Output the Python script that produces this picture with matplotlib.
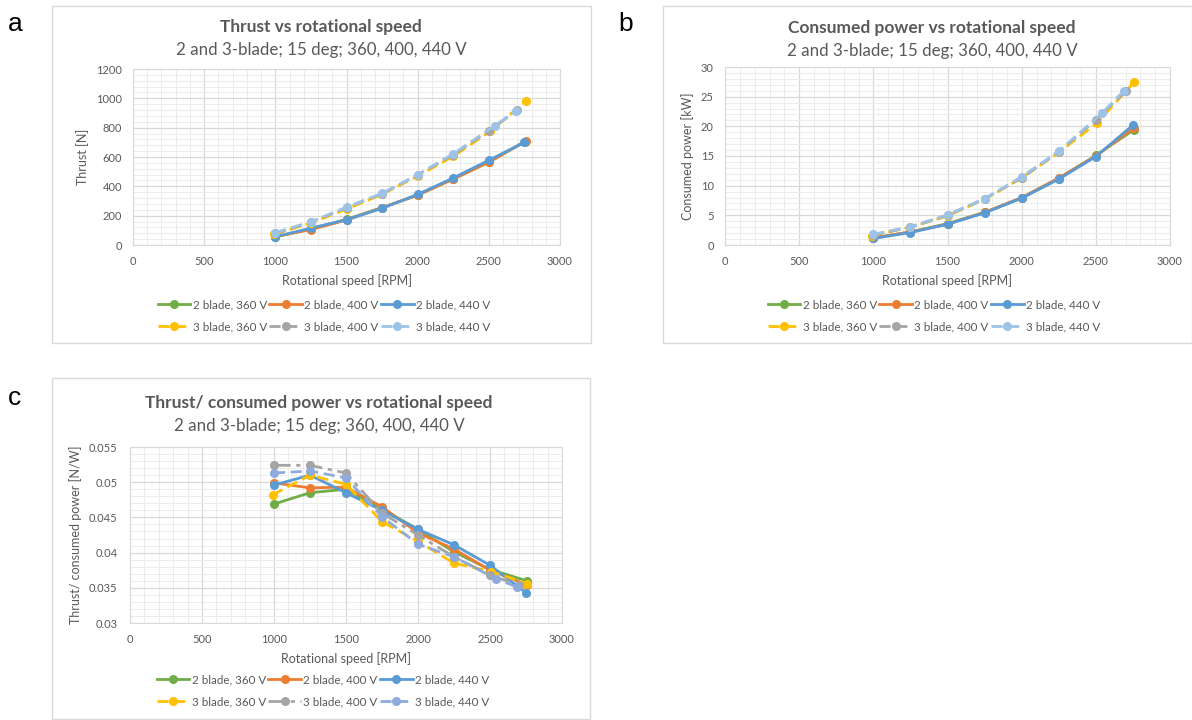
import matplotlib
matplotlib.use("Agg")
import matplotlib.pyplot as plt
from matplotlib.patches import Rectangle
from matplotlib.ticker import MultipleLocator, FuncFormatter

plt.rcParams['font.family'] = ['Lato', 'DejaVu Sans']

# ---- data ----
labels = ['2 blade, 360 V', '2 blade, 400 V', '2 blade, 440 V',
          '3 blade, 360 V', '3 blade, 400 V', '3 blade, 440 V']

x_2b_360 = [1000, 1250, 1500, 1750, 2000, 2250, 2500, 2755]
x_2b_400 = [1000, 1250, 1500, 1750, 2000, 2250, 2500, 2760]
x_2b_440 = [1000, 1250, 1500, 1750, 2000, 2250, 2500, 2750]
x_3b_360 = [990, 1250, 1500, 1750, 2000, 2250, 2510, 2760]
x_3b_400 = [1000, 1250, 1500, 1750, 2000, 2250, 2500, 2700]
x_3b_440 = [1000, 1250, 1500, 1750, 2000, 2250, 2540, 2690]

thrust_2b_360 = [55, 110, 175, 255, 340, 450, 565, 705]
thrust_2b_400 = [58, 105, 170, 255, 340, 450, 565, 710]
thrust_2b_440 = [57, 115, 172, 250, 345, 457, 578, 700]
thrust_3b_360 = [72, 150, 245, 345, 470, 605, 775, 980]
thrust_3b_400 = [80, 155, 255, 350, 478, 615, 780, 920]
thrust_3b_440 = [85, 158, 258, 352, 480, 622, 812, 915]

power_2b_360 = [1.2, 2.2, 3.6, 5.5, 7.9, 11.2, 15.1, 19.4]
power_2b_400 = [1.2, 2.2, 3.5, 5.5, 8.0, 11.3, 15.0, 19.8]
power_2b_440 = [1.1, 2.1, 3.5, 5.4, 7.9, 11.1, 14.9, 20.2]
power_3b_360 = [1.6, 3.0, 4.9, 7.7, 11.3, 15.6, 20.6, 27.5]
power_3b_400 = [1.7, 3.0, 5.0, 7.8, 11.3, 15.7, 21.1, 25.9]
power_3b_440 = [1.8, 3.1, 5.1, 7.8, 11.5, 15.8, 22.2, 26.0]

ratio_2b_360 = [0.0469, 0.0485, 0.0490, 0.0462, 0.0433, 0.0401, 0.0376, 0.0360]
ratio_2b_400 = [0.0499, 0.0492, 0.0493, 0.0465, 0.0428, 0.0405, 0.0375, 0.0354]
ratio_2b_440 = [0.0496, 0.0510, 0.0485, 0.0460, 0.0433, 0.0411, 0.0382, 0.0343]
ratio_3b_360 = [0.0482, 0.0510, 0.0497, 0.0444, 0.0416, 0.0385, 0.0373, 0.0356]
ratio_3b_400 = [0.0524, 0.0524, 0.0513, 0.0456, 0.0425, 0.0394, 0.0368, 0.0354]
ratio_3b_440 = [0.0513, 0.0516, 0.0506, 0.0451, 0.0412, 0.0394, 0.0363, 0.0351]

xs = [x_2b_360, x_2b_400, x_2b_440, x_3b_360, x_3b_400, x_3b_440]

TXT = '#595959'
W, H = 1192, 720

fig = plt.figure(figsize=(W / 100, H / 100), dpi=100)


def px_axes(x0, y0, x1, y1):
    return fig.add_axes([x0 / W, 1 - y1 / H, (x1 - x0) / W, (y1 - y0) / H])


def box(x0, y0, x1, y1):
    fig.patches.append(Rectangle((x0 / W, 1 - y1 / H), (x1 - x0) / W, (y1 - y0) / H,
                                 transform=fig.transFigure, fill=False,
                                 edgecolor='#d9d9d9', linewidth=1.0))


def panel(rect, ys, colors, styles, ylim, ymaj, ymin, ylabel, title, tcx, tcy,
          letter, lx, ly, leg_cx, leg_cy, ypad):
    ax = px_axes(*rect)
    for x, y, c, ls, lab in zip(xs, ys, colors, styles, labels):
        ax.plot(x, y, color=c, linestyle=ls, linewidth=2, marker='o', markersize=5.5,
                label=lab)
    ax.set_xlim(0, 3000)
    ax.set_ylim(*ylim)
    ax.xaxis.set_major_locator(MultipleLocator(500))
    ax.xaxis.set_minor_locator(MultipleLocator(100))
    ax.yaxis.set_major_locator(MultipleLocator(ymaj))
    ax.yaxis.set_minor_locator(MultipleLocator(ymin))
    ax.yaxis.set_major_formatter(FuncFormatter(lambda v, p: f'{round(v, 6):g}'))
    ax.grid(which='major', color='#d9d9d9', linewidth=0.9)
    ax.grid(which='minor', color='#ececec', linewidth=0.7)
    ax.set_axisbelow(True)
    for s in ax.spines.values():
        s.set_color('#d9d9d9')
    ax.tick_params(which='both', length=0, colors=TXT, labelsize=8)
    ax.tick_params(axis='x', pad=8)
    ax.tick_params(axis='y', pad=ypad)
    ax.set_xlabel('Rotational speed [RPM]', color=TXT, fontsize=9, labelpad=5)
    ax.set_ylabel(ylabel, color=TXT, fontsize=9, labelpad=5)
    fig.text(tcx / W, 1 - tcy / H, title, ha='center', va='center', color=TXT,
             fontsize=12.5, fontweight='bold')
    fig.text(tcx / W, 1 - (tcy + 23) / H, '2 and 3-blade; 15 deg; 360, 400, 440 V',
             ha='center', va='center', color=TXT, fontsize=12.2)
    fig.text(lx / W, 1 - ly / H, letter, ha='center', va='center', fontsize=19,
             family=['Liberation Sans', 'DejaVu Sans'])
    h, l = ax.get_legend_handles_labels()
    order = [0, 3, 1, 4, 2, 5]
    ax.legend([h[i] for i in order], [l[i] for i in order], ncol=3, frameon=False,
              loc='center', bbox_to_anchor=(leg_cx / W, 1 - leg_cy / H),
              bbox_transform=fig.transFigure, fontsize=8.4, labelcolor=TXT,
              handlelength=2.8, handletextpad=0.2, columnspacing=0.2,
              labelspacing=0.95, borderpad=0)
    return ax


cols_ab = ['#70ad47', '#ed7d31', '#5b9bd5', '#ffc000', '#a5a5a5', '#9dc3e6']
cols_c = ['#70ad47', '#ed7d31', '#5b9bd5', '#ffc000', '#a5a5a5', '#8faadc']
dash = (0, (4, 2))
sty_ab = ['-', '-', '-', dash, dash, dash]
sty_c = ['-', '-', '-', dash, (0, (6, 2, 1.5, 2)), dash]

box(52, 6, 591, 343)
box(663, 6, 1192, 343)
box(52, 378, 590, 719)

panel((133, 69, 560, 245), [thrust_2b_360, thrust_2b_400, thrust_2b_440,
                            thrust_3b_360, thrust_3b_400, thrust_3b_440],
      cols_ab, sty_ab, (0, 1200), 200, 40, 'Thrust [N]',
      'Thrust vs rotational speed', 321, 27, 'a', 15, 24, 324, 316, 8)

panel((725, 67, 1170, 245), [power_2b_360, power_2b_400, power_2b_440,
                             power_3b_360, power_3b_400, power_3b_440],
      cols_ab, sty_ab, (0, 30), 5, 1, 'Consumed power [kW]',
      'Consumed power vs rotational speed', 932, 28, 'b', 626, 24, 934, 316, 8)

panel((130, 447, 562, 623), [ratio_2b_360, ratio_2b_400, ratio_2b_440,
                             ratio_3b_360, ratio_3b_400, ratio_3b_440],
      cols_c, sty_c, (0.03, 0.055), 0.005, 0.001, 'Thrust/ consumed power [N/W]',
      'Thrust/ consumed power vs rotational speed', 319, 403, 'c', 15, 398, 323, 691, 9)

fig.savefig('out.png', dpi=100)
